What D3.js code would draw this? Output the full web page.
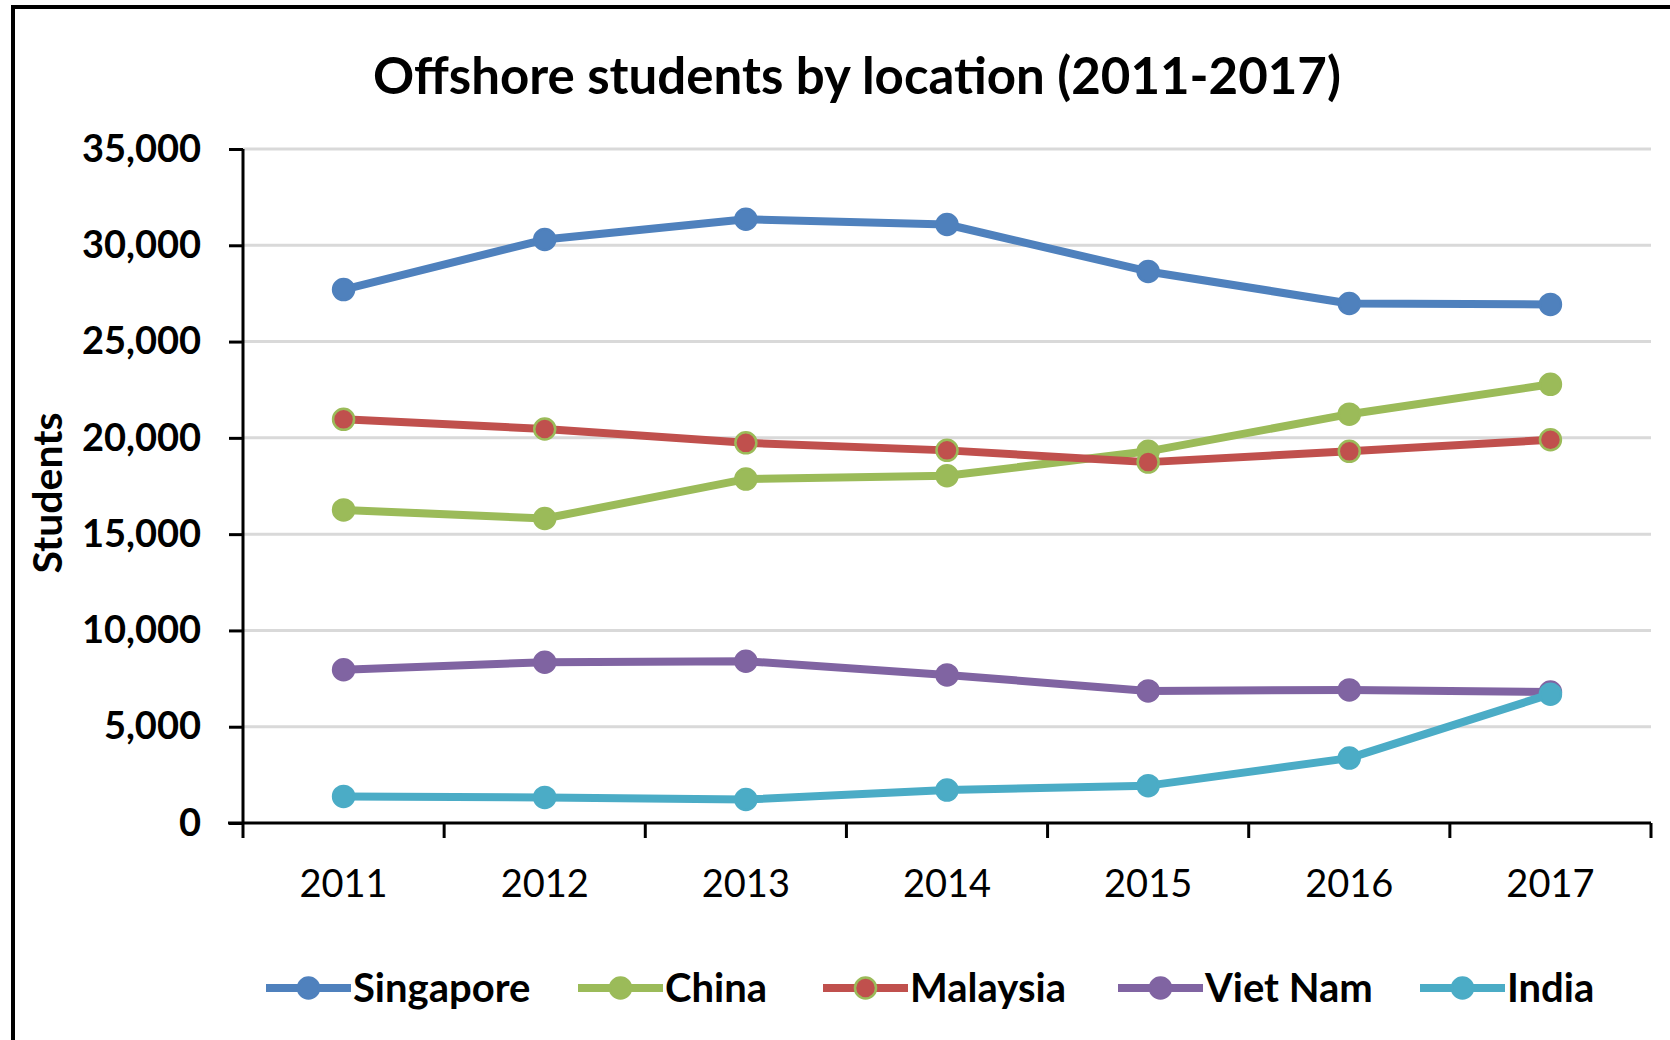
<!DOCTYPE html>
<html>
<head>
<meta charset="utf-8">
<script src="https://cdn.jsdelivr.net/npm/d3@7"></script>
<style>
  html, body { margin: 0; padding: 0; background: #fff; }
  svg { display: block; }
</style>
</head>
<body>
<svg id="chart" width="1670" height="1040"></svg>
<script>
const years = ["2011", "2012", "2013", "2014", "2015", "2016", "2017"];
const singapore = [27700, 30300, 31350, 31080, 28640, 26980, 26930];
const china     = [16260, 15810, 17860, 18030, 19300, 21230, 22780];
const malaysia  = [20960, 20460, 19740, 19350, 18740, 19300, 19900];
const vietNam   = [7960, 8350, 8400, 7690, 6860, 6910, 6800];
const india     = [1380, 1330, 1220, 1710, 1940, 3370, 6690];
const yTicks    = [0, 5000, 10000, 15000, 20000, 25000, 30000, 35000];
const seriesNames = ["Singapore", "China", "Malaysia", "Viet Nam", "India"];

const series = [
  { name: seriesNames[0], values: singapore, color: "#4F81BD", marker: "#4F81BD", mstroke: "#4F81BD" },
  { name: seriesNames[1], values: china,     color: "#9BBB59", marker: "#9BBB59", mstroke: "#9BBB59" },
  { name: seriesNames[2], values: malaysia,  color: "#C0504D", marker: "#C0504D", mstroke: "#9BBB59" },
  { name: seriesNames[3], values: vietNam,   color: "#8064A2", marker: "#8064A2", mstroke: "#8064A2" },
  { name: seriesNames[4], values: india,     color: "#4BACC6", marker: "#4BACC6", mstroke: "#4BACC6" }
];

const svg = d3.select("#chart");
const FONT = "Lato, 'Open Sans', sans-serif";

// outer frame
svg.append("rect")
  .attr("x", 13).attr("y", 7)
  .attr("width", 1700).attr("height", 1100)
  .attr("fill", "none").attr("stroke", "#000").attr("stroke-width", 4);

const pLeft = 243, pRight = 1651, pTop = 149, pBottom = 823;

const x = d3.scaleBand().domain(years).range([pLeft, pRight]);
const y = d3.scaleLinear().domain([0, 35000]).range([pBottom, pTop]);

// title
svg.append("text")
  .attr("x", 857).attr("y", 94)
  .attr("text-anchor", "middle")
  .attr("font-family", FONT).attr("font-weight", "bold")
  .attr("font-size", 51).attr("fill", "#000")
  .text("Offshore students by location (2011-2017)");

// gridlines
svg.append("g")
  .selectAll("line").data(yTicks.filter(d => d > 0)).join("line")
  .attr("x1", pLeft).attr("x2", pRight)
  .attr("y1", d => y(d)).attr("y2", d => y(d))
  .attr("stroke", "#d9d9d9").attr("stroke-width", 3);

// y axis
const yAxis = svg.append("g")
  .attr("transform", `translate(${pLeft},0)`)
  .call(d3.axisLeft(y).tickValues(yTicks).tickSize(14).tickPadding(28)
        .tickFormat(d3.format(",")));
yAxis.select(".domain").attr("stroke", "#000").attr("stroke-width", 3)
  .attr("d", `M0,${pTop}V${pBottom}`);
yAxis.selectAll(".tick line").attr("stroke", "#000").attr("stroke-width", 3);
yAxis.selectAll(".tick text")
  .attr("font-family", FONT).attr("font-weight", "bold")
  .attr("font-size", 38).attr("fill", "#000");

// x axis
const xAxis = svg.append("g")
  .attr("transform", `translate(0,${pBottom})`)
  .call(d3.axisBottom(x).tickSize(0).tickPadding(47));
xAxis.select(".domain").remove();
xAxis.append("line")
  .attr("x1", pLeft - 15).attr("x2", pRight)
  .attr("stroke", "#000").attr("stroke-width", 3);
xAxis.selectAll(".tick text")
  .attr("font-family", FONT).attr("font-weight", "normal")
  .attr("font-size", 38).attr("fill", "#000");
const boundaries = years.map(d => x(d)).concat([x(years[years.length - 1]) + x.bandwidth()]);
xAxis.append("g").selectAll("line").data(boundaries).join("line")
  .attr("x1", d => d).attr("x2", d => d)
  .attr("y1", 0).attr("y2", 15)
  .attr("stroke", "#000").attr("stroke-width", 3);

// y axis title
svg.append("text")
  .attr("transform", `translate(62,493) rotate(-90)`)
  .attr("text-anchor", "middle")
  .attr("font-family", FONT).attr("font-weight", "bold")
  .attr("font-size", 41).attr("fill", "#000")
  .text("Students");

const cx = d => x(d) + x.bandwidth() / 2;
const line = d3.line().x((v, i) => cx(years[i])).y(v => y(v));

const plot = svg.append("g");
series.forEach(s => {
  const g = plot.append("g");
  g.append("path")
    .attr("d", line(s.values))
    .attr("fill", "none").attr("stroke", s.color)
    .attr("stroke-width", 8).attr("stroke-linejoin", "round");
  g.selectAll("circle").data(s.values).join("circle")
    .attr("cx", (v, i) => cx(years[i])).attr("cy", v => y(v))
    .attr("r", 10.5)
    .attr("fill", s.marker).attr("stroke", s.mstroke).attr("stroke-width", 2.5);
});

// legend
const legendX = [266, 578, 823, 1118, 1420];
const legendY = 988;
const lg = svg.append("g");
series.forEach((s, i) => {
  const g = lg.append("g");
  g.append("line")
    .attr("x1", legendX[i]).attr("x2", legendX[i] + 85)
    .attr("y1", legendY).attr("y2", legendY)
    .attr("stroke", s.color).attr("stroke-width", 8);
  g.append("circle")
    .attr("cx", legendX[i] + 42.5).attr("cy", legendY).attr("r", 10.5)
    .attr("fill", s.marker).attr("stroke", s.mstroke).attr("stroke-width", 2.5);
  g.append("text")
    .attr("x", legendX[i] + 87).attr("y", legendY + 14)
    .attr("font-family", FONT).attr("font-weight", "bold")
    .attr("font-size", 40).attr("fill", "#000")
    .text(s.name);
});
</script>
</body>
</html>
